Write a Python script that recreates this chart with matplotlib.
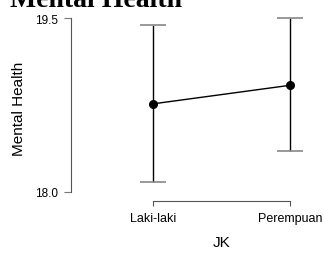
import matplotlib
matplotlib.use("Agg")
from matplotlib import pyplot as plt

# Groups on the x axis
groups = ["Laki-laki", "Perempuan"]
# Estimated marginal means and confidence limits
means = [18.76, 18.92]
lower = [18.09, 18.35]
upper = [19.44, 19.50]

W, H = 324, 255
fig = plt.figure(figsize=(W / 100, H / 100), dpi=100)
ax = fig.add_axes([71 / W, (H - 202) / H, (310 - 71) / W, (202 - 15) / H])

x = list(range(len(groups)))
err = [[m - lo for m, lo in zip(means, lower)],
       [up - m for m, up in zip(means, upper)]]

eb = ax.errorbar(x, means, yerr=err, fmt="none", ecolor="black", elinewidth=1,
                 capsize=9.7, capthick=1.2, zorder=2)
# grey caps like the reference
for cap in eb.lines[1]:
    cap.set_markeredgecolor("#888888")
ax.plot(x, means, "-", color="black", lw=1, zorder=3)
ax.plot(x, means, "o", color="black", ms=5.5, zorder=4)

ax.set_xlim(-0.599, 1.146)
ax.set_ylim(17.922, 19.535)
ax.set_xticks(x)
ax.set_xticklabels(groups, fontsize=9, family="Liberation Sans")
ax.set_yticks([18.0, 19.5])
ax.set_yticklabels(["18.0", "19.5"], fontsize=8.5, family="Liberation Sans")

for s in ["top", "right"]:
    ax.spines[s].set_visible(False)
ax.spines["left"].set_bounds(18.0, 19.5)
ax.spines["bottom"].set_bounds(0, 1)
for s in ["left", "bottom"]:
    ax.spines[s].set_color("#555555")
    ax.spines[s].set_linewidth(0.8)
ax.tick_params(axis="y", length=5, width=0.8, color="#777777", pad=4)
ax.tick_params(axis="x", length=3.6, width=0.8, color="#555555", pad=4)

ax.set_ylabel("Mental Health", fontsize=11, family="Liberation Sans", labelpad=7)
ax.set_xlabel("JK", fontsize=11, family="Liberation Sans", labelpad=8)
ax.xaxis.label.set_x((0.5 + 0.599) / (1.146 + 0.599))

fig.text(10 / W, 1 - 7 / H, "Mental Health", fontsize=20, fontweight="bold",
         family="Liberation Serif", va="baseline", ha="left")

fig.savefig("out.png", dpi=100)
